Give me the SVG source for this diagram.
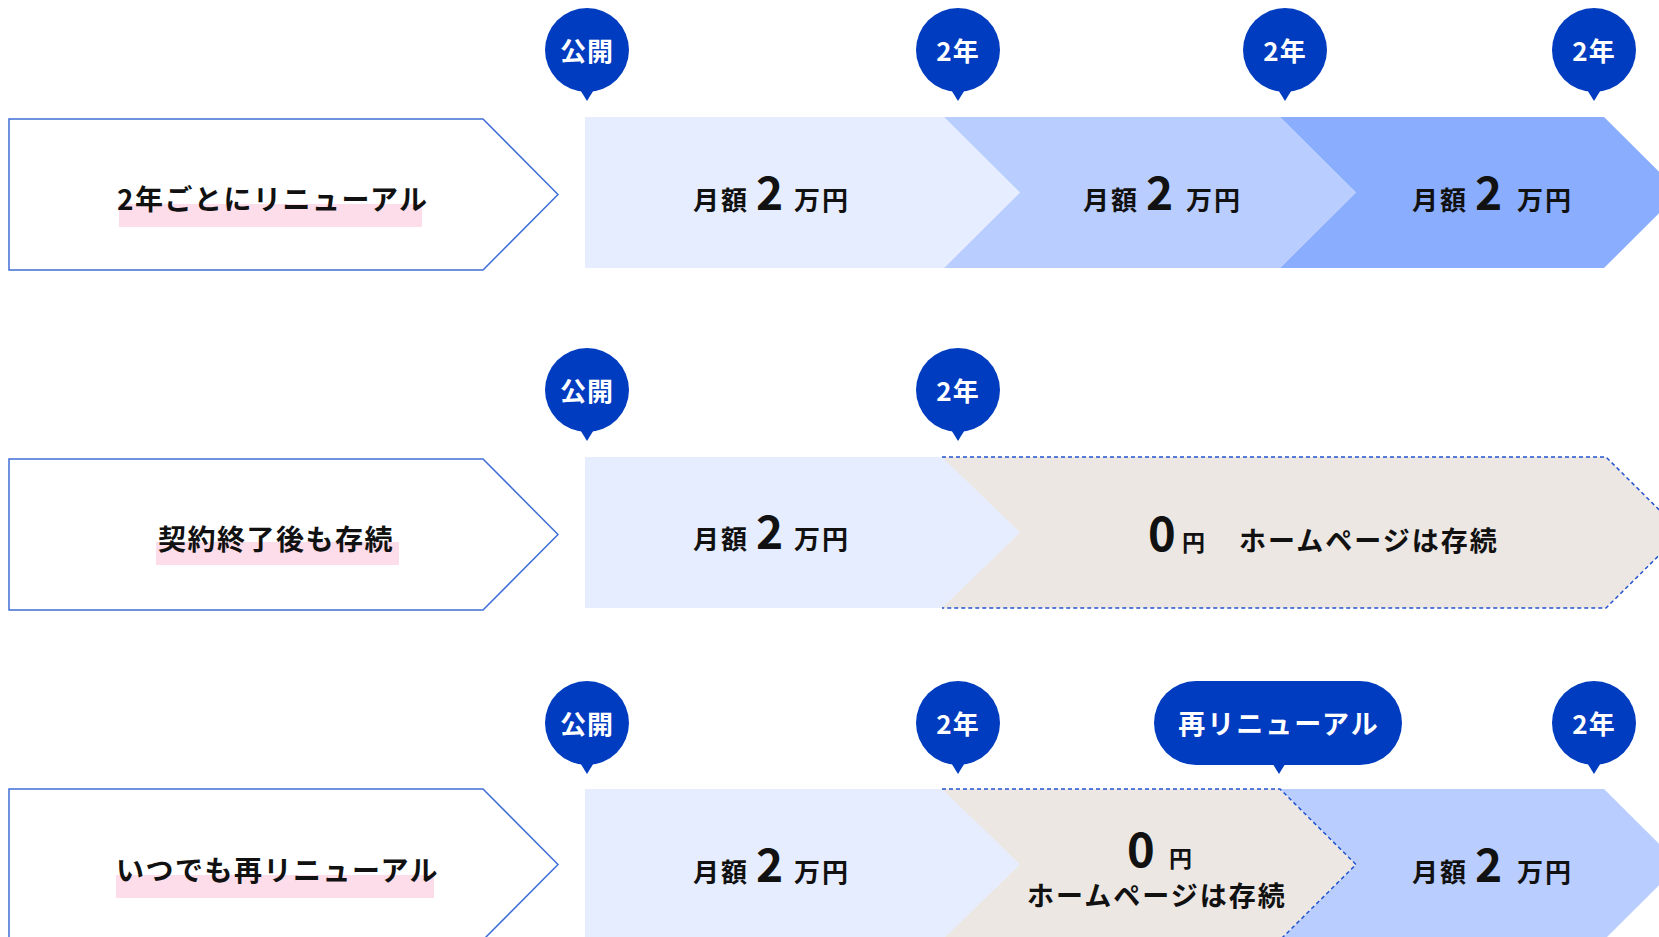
<svg xmlns="http://www.w3.org/2000/svg" width="1659" height="937" viewBox="0 0 1659 937">
<style>
text{font-family:"Noto Sans CJK JP","Noto Sans",sans-serif;font-weight:700;}
.box{fill:#fff;stroke:#3f6fd6;stroke-width:1.5;}
.hl{fill:#fddde9;}
.lbl{font-size:28px;fill:#111;letter-spacing:1.5px;}
.s1{fill:#e6edfe;}
.s2{fill:#b9cefe;}
.s3{fill:#8aadfe;}
.sg{fill:#ece7e3;}
.dash{fill:none;stroke:#2353d0;stroke-width:1.5;stroke-dasharray:4 3;}
.pin{fill:#003cbf;}
.pt{font-size:26px;fill:#fff;letter-spacing:1px;text-anchor:middle;}
.jp{font-size:26px;fill:#111;letter-spacing:2px;}
.big{font-size:46px;fill:#111;}
.zero{font-size:47px;fill:#111;}
.yen{font-size:23px;fill:#111;}
.hp{font-size:27px;fill:#111;letter-spacing:2px;}
</style>
<defs>
<g id="pinShape">
<circle cx="0" cy="0" r="42"/>
<path d="M-8,38 L8,38 L0,51 Z"/>
</g>
</defs>

<g id="connectors"></g>

<!-- Row 1 -->
<g id="row1-label">
<path class="box" d="M9,119 L483,119 L558,194.5 L483,270 L9,270 Z"/>
<rect class="hl" x="119" y="204" width="303" height="23"/>
<text class="lbl" x="117" y="210">2年ごとにリニューアル</text>
</g>
<g id="row1-seg1">
<path class="s1" d="M585,117 L944,117 L1020,192.5 L944,268 L585,268 Z"/>
<text class="jp" x="693" y="210">月額</text><text class="big" x="756" y="210">2</text><text class="jp" x="794" y="210">万円</text>
</g>
<g id="row1-seg2">
<path class="s2" d="M944,117 L1280,117 L1356,192.5 L1280,268 L944,268 L1020,192.5 Z"/>
<text class="jp" x="1083" y="210">月額</text><text class="big" x="1146" y="210">2</text><text class="jp" x="1186" y="210">万円</text>
</g>
<g id="row1-seg3">
<path class="s3" d="M1280,117 L1604,117 L1680,192.5 L1604,268 L1280,268 L1356,192.5 Z"/>
<text class="jp" x="1412" y="210">月額</text><text class="big" x="1475" y="210">2</text><text class="jp" x="1517" y="210">万円</text>
</g>
<g id="row1-pin1" class="pin"><use href="#pinShape" x="587" y="50"/><text class="pt" x="587" y="61">公開</text></g>
<g id="row1-pin2" class="pin"><use href="#pinShape" x="958" y="50"/><text class="pt" x="958" y="61">2年</text></g>
<g id="row1-pin3" class="pin"><use href="#pinShape" x="1285" y="50"/><text class="pt" x="1285" y="61">2年</text></g>
<g id="row1-pin4" class="pin"><use href="#pinShape" x="1594" y="50"/><text class="pt" x="1594" y="61">2年</text></g>

<!-- Row 2 -->
<g id="row2-label">
<path class="box" d="M9,459 L483,459 L558,534.5 L483,610 L9,610 Z"/>
<rect class="hl" x="156" y="542" width="243" height="23"/>
<text class="lbl" x="158" y="550">契約終了後も存続</text>
</g>
<g id="row2-seg1">
<path class="s1" d="M585,457 L944,457 L1020,532.5 L944,608 L585,608 Z"/>
<text class="jp" x="693" y="549">月額</text><text class="big" x="756" y="549">2</text><text class="jp" x="794" y="549">万円</text>
</g>
<g id="row2-seg2">
<path class="sg" d="M942,457 L1606,457 L1682,532.5 L1606,608 L942,608 L1020,532.5 Z"/>
<path class="dash" d="M942,457 L1606,457 L1682,532.5 L1606,608 L942,608"/>
<text class="zero" x="1148" y="551">0</text><text class="yen" x="1182" y="551">円</text>
<text class="hp" x="1239" y="551">ホームページは存続</text>
</g>
<g id="row2-pin1" class="pin"><use href="#pinShape" x="587" y="390"/><text class="pt" x="587" y="401">公開</text></g>
<g id="row2-pin2" class="pin"><use href="#pinShape" x="958" y="390"/><text class="pt" x="958" y="401">2年</text></g>

<!-- Row 3 -->
<g id="row3-label">
<path class="box" d="M9,789 L483,789 L558,864.5 L483,940 L9,940 Z"/>
<rect class="hl" x="116" y="875" width="318" height="23"/>
<text class="lbl" x="116" y="881">いつでも再リニューアル</text>
</g>
<g id="row3-seg1">
<path class="s1" d="M585,789 L944,789 L1020,864.5 L944,940 L585,940 Z"/>
<text class="jp" x="693" y="882">月額</text><text class="big" x="756" y="882">2</text><text class="jp" x="794" y="882">万円</text>
</g>
<g id="row3-seg3">
<path class="s2" d="M1280,789 L1604,789 L1680,864.5 L1604,940 L1280,940 L1356,864.5 Z"/>
<text class="jp" x="1412" y="882">月額</text><text class="big" x="1475" y="882">2</text><text class="jp" x="1517" y="882">万円</text>
</g>
<g id="row3-seg2">
<path class="sg" d="M942,789 L1280,789 L1356,864.5 L1280,940 L942,940 L1020,864.5 Z"/>
<path class="dash" d="M942,789 L1280,789 L1356,864.5 L1280,940"/>
<text class="zero" x="1127" y="867">0</text><text class="yen" x="1169" y="867">円</text>
<text class="hp" x="1027" y="906">ホームページは存続</text>
</g>
<g id="row3-pin1" class="pin"><use href="#pinShape" x="587" y="723"/><text class="pt" x="587" y="734">公開</text></g>
<g id="row3-pin2" class="pin"><use href="#pinShape" x="958" y="723"/><text class="pt" x="958" y="734">2年</text></g>
<g id="row3-pin3" class="pin">
<rect x="1154" y="681" width="248" height="84" rx="42"/>
<path d="M1271,761 L1287,761 L1279,774 Z"/>
<text class="pt" x="1279" y="734" style="font-size:27px;letter-spacing:2px">再リニューアル</text>
</g>
<g id="row3-pin4" class="pin"><use href="#pinShape" x="1594" y="723"/><text class="pt" x="1594" y="734">2年</text></g>
</svg>
